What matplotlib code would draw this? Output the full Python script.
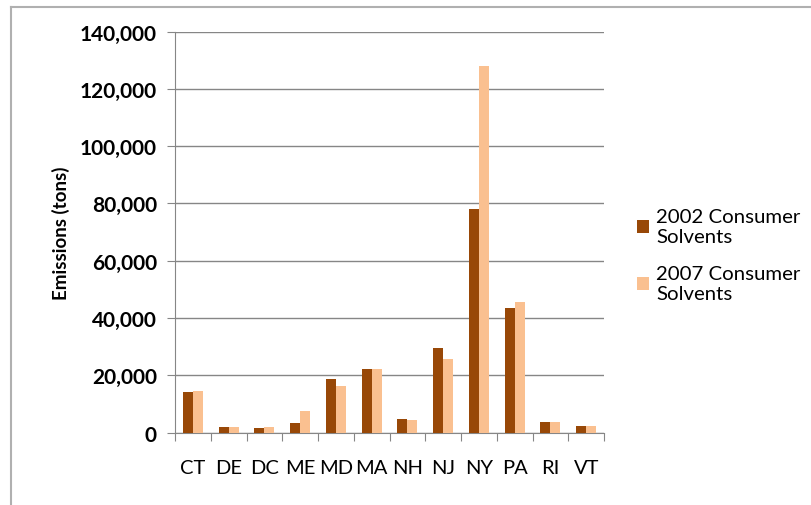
import matplotlib.pyplot as plt
import numpy as np
from matplotlib.ticker import FuncFormatter
from matplotlib.lines import Line2D

states = ['CT', 'DE', 'DC', 'ME', 'MD', 'MA', 'NH', 'NJ', 'NY', 'PA', 'RI', 'VT']
solvents_2002 = [14000, 1950, 1500, 3300, 18600, 22000, 4700, 29600, 78000, 43500, 3500, 2100]
solvents_2007 = [14400, 1900, 1950, 7500, 16300, 22300, 4250, 25800, 128000, 45700, 3800, 2400]
series_labels = ['2002 Consumer\nSolvents', '2007 Consumer\nSolvents']

dark = '#984807'
light = '#FAC090'
grid_col = '#868686'

plt.rcParams['font.family'] = ['Lato', 'DejaVu Sans']

fig = plt.figure(figsize=(8.11, 5.06), dpi=100)
ax = fig.add_axes([175 / 811, 1 - 433.5 / 506, (604 - 175) / 811, (433.5 - 32.5) / 506])

x = np.arange(len(states))
w = 0.28
b1 = ax.bar(x - w / 2, solvents_2002, w, color=dark, label=series_labels[0], zorder=3)
b2 = ax.bar(x + w / 2, solvents_2007, w, color=light, label=series_labels[1], zorder=3)

ax.set_xlim(-0.5, len(states) - 0.5)
ax.set_ylim(0, 140000)
ax.set_yticks(np.arange(0, 140001, 20000))
ax.yaxis.set_major_formatter(FuncFormatter(lambda v, p: f'{int(v):,}'))
ax.yaxis.grid(True, color=grid_col, linewidth=1, zorder=0)

# category ticks sit between the groups
ax.set_xticks(np.arange(-0.5, len(states), 1.0))
ax.set_xticklabels([])
ax.set_xticks(x, minor=True)
ax.set_xticklabels(states, minor=True)
ax.tick_params(axis='x', which='minor', length=0, pad=19, labelsize=14.5)
ax.tick_params(axis='x', which='major', direction='out', length=6, color=grid_col)
ax.tick_params(axis='y', direction='out', length=6, color=grid_col, pad=7, labelsize=15)
for t in ax.get_yticklabels():
    t.set_fontweight('bold')

for s in ['top', 'right']:
    ax.spines[s].set_visible(False)
for s in ['left', 'bottom']:
    ax.spines[s].set_color(grid_col)

ax.set_ylabel('Emissions (tons)', fontsize=13.5, fontweight='bold', labelpad=7)

ax.legend(handles=[b1, b2], loc='center left', bbox_to_anchor=(1.058, 0.443),
          frameon=False, fontsize=14.7, handlelength=0.6, handleheight=0.6,
          handletextpad=0.35, labelspacing=1.0, borderaxespad=0)

# chart area border (top and left edges)
fig.add_artist(Line2D([10.5 / 811, 1], [1 - 7.5 / 506, 1 - 7.5 / 506], color='#b0b0b0', linewidth=1.5))
fig.add_artist(Line2D([10.5 / 811, 10.5 / 811], [0, 1 - 7.5 / 506], color='#b0b0b0', linewidth=1.5))

fig.savefig('out.png', dpi=100)
